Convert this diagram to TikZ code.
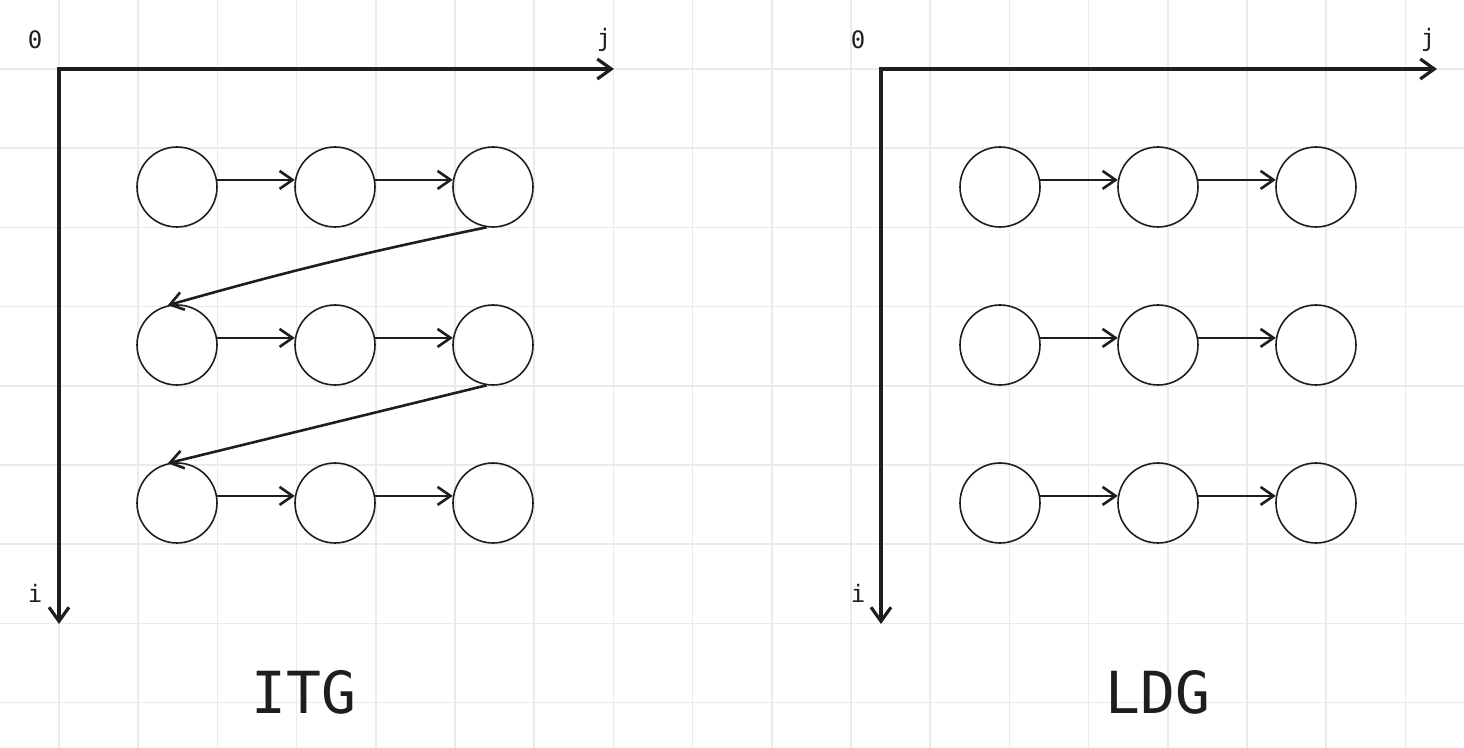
\documentclass[tikz,border=0pt]{standalone}
\usepackage{fontspec}
\setmonofont{DejaVu Sans Mono}
\usetikzlibrary{arrows.meta,positioning}
\definecolor{ink}{HTML}{1E1E1E}
\definecolor{gridgray}{HTML}{EAEAEA}

\begin{document}
\begin{tikzpicture}[x=0.5pt,y=-0.5pt,node distance=38.2pt and 38.2pt,
cell/.style={circle,draw=ink,line width=0.8pt,minimum size=40pt,inner sep=0pt},
axis/.style={{Straight Barb[length=7pt,width=10pt]}-{Straight Barb[length=7pt,width=10pt]},line width=1.6pt,color=ink,line join=miter},
arr/.style={-{Straight Barb[length=6.5pt,width=9pt]},line width=1.3pt,color=ink},
lbl/.style={font=\ttfamily\fontsize{12}{14}\selectfont,text=ink,inner sep=0pt},
title/.style={font=\ttfamily\fontsize{29}{34}\selectfont,text=ink}]
\useasboundingbox (0,0) rectangle (1464,748);
% background grid
\foreach \k in {0,...,17}
  \draw[gridgray,line width=0.8pt] ({59+79.2*\k},0) -- ({59+79.2*\k},748);
\foreach \k in {0,...,8}
  \draw[gridgray,line width=0.8pt] (0,{69+79.2*\k}) -- (1464,{69+79.2*\k});

% ITG
\coordinate (O1) at (59,69);
\coordinate (J1) at (614,69);
\coordinate (I1) at (59,624);
\draw[axis] (J1) -- (O1) -- (I1);
\node[lbl] (z1) at (35,40) {0};
\node[lbl] (j1) at (604,40) {j};
\node[lbl] (i1) at (35,593) {i};
\node[cell] (a11) at (177,187) {};
\node[cell,right=of a11] (a12) {};
\node[cell,right=of a12] (a13) {};
\node[cell,below=of a11] (a21) {};
\node[cell,right=of a21] (a22) {};
\node[cell,right=of a22] (a23) {};
\node[cell,below=of a21] (a31) {};
\node[cell,right=of a31] (a32) {};
\node[cell,right=of a32] (a33) {};
\draw[arr] (a11.10) -- (a12.170);
\draw[arr] (a12.10) -- (a13.170);
\draw[arr] (a13.261) to[bend right=2] (a21.103);
\draw[arr] (a21.10) -- (a22.170);
\draw[arr] (a22.10) -- (a23.170);
\draw[arr] (a23.261) -- (a31.103);
\draw[arr] (a31.10) -- (a32.170);
\draw[arr] (a32.10) -- (a33.170);
\node[title] (t1) at (304,692) {ITG};

% LDG
\coordinate (O2) at (881,69);
\coordinate (J2) at (1437,69);
\coordinate (I2) at (881,624);
\draw[axis] (J2) -- (O2) -- (I2);
\node[lbl] (z2) at (858,40) {0};
\node[lbl] (j2) at (1428,40) {j};
\node[lbl] (i2) at (858,593) {i};
\node[cell] (b11) at (1000,187) {};
\node[cell,right=of b11] (b12) {};
\node[cell,right=of b12] (b13) {};
\node[cell,below=of b11] (b21) {};
\node[cell,right=of b21] (b22) {};
\node[cell,right=of b22] (b23) {};
\node[cell,below=of b21] (b31) {};
\node[cell,right=of b31] (b32) {};
\node[cell,right=of b32] (b33) {};
\draw[arr] (b11.10) -- (b12.170);
\draw[arr] (b12.10) -- (b13.170);
\draw[arr] (b21.10) -- (b22.170);
\draw[arr] (b22.10) -- (b23.170);
\draw[arr] (b31.10) -- (b32.170);
\draw[arr] (b32.10) -- (b33.170);
\node[title] (t2) at (1158,692) {LDG};
\end{tikzpicture}
\end{document}
